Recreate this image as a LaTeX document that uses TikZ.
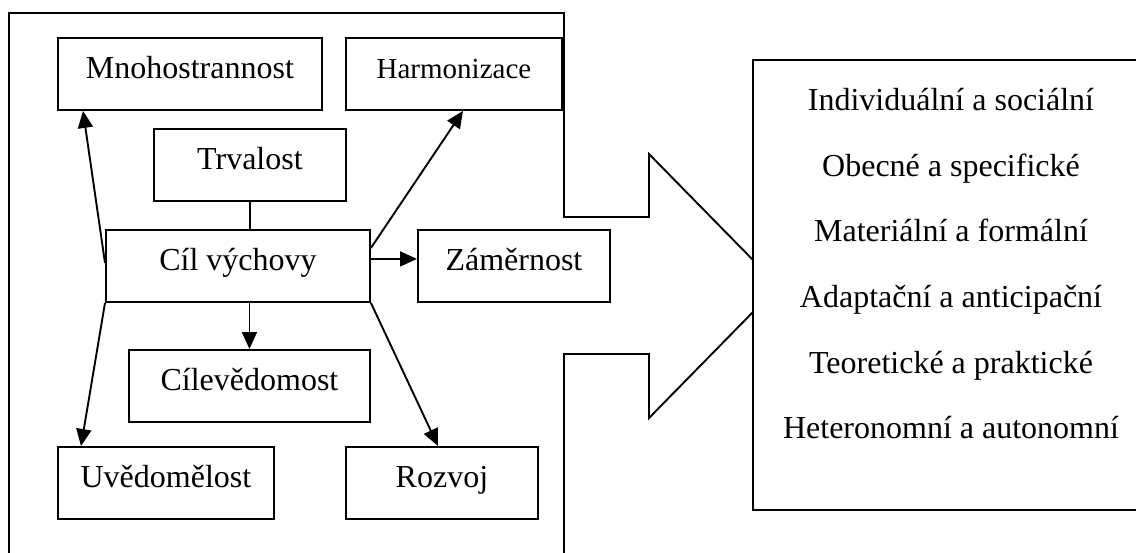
\documentclass[tikz,border=0pt]{standalone}
\usepackage{fontspec}
\setmainfont{Liberation Serif}
\usetikzlibrary{arrows.meta}
\begin{document}
\begin{tikzpicture}[x=1pt,y=-1pt,line width=1.9pt,
  box/.style={draw,anchor=north west,inner sep=0pt,minimum height=72pt,
    text height=41pt,text depth=31pt,font=\fontsize{32}{38}\selectfont},
  smallbox/.style={box,font=\fontsize{29}{35}\selectfont},
  item/.style={anchor=base,inner sep=0pt,font=\fontsize{32}{38}\selectfont},
  arr/.style={-{Triangle[length=17pt,width=15pt]}}]
\useasboundingbox (0,0) rectangle (1136,552);
% outer frame with arrow
\draw (9,556) -- (9,13) -- (564,13) -- (564,217) -- (649,217) -- (649,154) -- (753,260);
\draw (753,312) -- (649,418) -- (649,354) -- (564,354) -- (564,556);
% right box
\draw (1140,60) -- (753,60) -- (753,510) -- (1140,510);
% boxes
\node[box,minimum width=264pt] (mnoh) at (57,37) {Mnohostrannost};
\node[smallbox,minimum width=216pt] (harm) at (345,37) {Harmonizace};
\node[box,minimum width=192pt] (trv) at (153,128) {Trvalost};
\node[box,minimum width=264pt] (cil) at (105,229) {Cíl výchovy};
\node[box,minimum width=192pt] (zam) at (417,229) {Záměrnost};
\node[box,minimum width=241pt] (cile) at (128,349) {Cílevědomost};
\node[box,minimum width=216pt] (uved) at (57,446) {Uvědomělost};
\node[box,minimum width=192pt] (roz) at (345,446) {Rozvoj};
% connectors
\draw (trv.south) -- (trv.south |- cil.north);
\draw[arr] ([yshift=3pt]cil.west) -- ([xshift=26pt]mnoh.south west);
\draw[arr] (cil.south west) -- ([xshift=24pt]uved.north west);
\draw[arr] ([yshift=-19pt]cil.north east) -- ([xshift=118pt]harm.south west);
\draw[arr] ([yshift=7pt]cil.east) -- ([yshift=7pt]zam.west);
\draw[arr] (cile.north |- cil.south) -- (cile.north);
\draw[arr] (cil.south east) -- ([xshift=93pt]roz.north west);
% right texts
\node[item] (t1) at (951,110) {Individuální a sociální};
\node[item] (t2) at (951,176) {Obecné a specifické};
\node[item] (t3) at (951,241) {Materiální a formální};
\node[item] (t4) at (951,307) {Adaptační a anticipační};
\node[item] (t5) at (951,373) {Teoretické a praktické};
\node[item] (t6) at (951,438) {Heteronomní a autonomní};
\end{tikzpicture}
\end{document}
